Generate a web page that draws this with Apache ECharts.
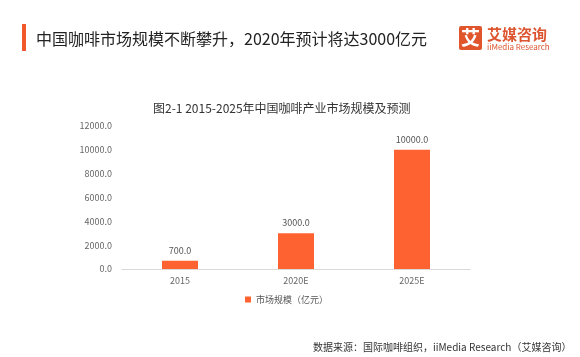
<!DOCTYPE html>
<html><head><meta charset="utf-8">
<script src="https://cdn.jsdelivr.net/npm/echarts@6/dist/echarts.min.js"></script>
<style>html,body{margin:0;padding:0;background:#fff}#c{width:580px;height:357px}</style>
</head><body><div id="c"></div>
<script>
const categories = ['2015', '2020E', '2025E'];
const marketSize = [700, 3000, 10000];
const seriesName = '市场规模（亿元）';
const yTicks = [0, 2000, 4000, 6000, 8000, 10000, 12000];

const FONT = '"Noto Sans CJK SC","Noto Sans",sans-serif';
const chart = echarts.init(document.getElementById('c'), null, {renderer: 'canvas'});
chart.setOption({
  backgroundColor: '#fff',
  animation: false,
  textStyle: {fontFamily: FONT},
  title: {
    text: '图2-1 2015-2025年中国咖啡产业市场规模及预测',
    left: 148, top: 97,
    textStyle: {fontSize: 12, fontWeight: 'normal', color: '#333', fontFamily: FONT}
  },
  grid: {left: 122, right: 110, top: 126, bottom: 88, containLabel: false},
  legend: {
    data: [seriesName], left: 240, top: 290,
    icon: 'rect', itemWidth: 6, itemHeight: 6, itemGap: 4,
    textStyle: {fontSize: 9, color: '#555', fontFamily: FONT}
  },
  xAxis: {
    type: 'category', data: categories,
    axisLine: {lineStyle: {color: '#d9d9d9'}},
    axisTick: {show: false},
    axisLabel: {fontSize: 9, color: '#666', margin: 7}
  },
  yAxis: {
    type: 'value', min: yTicks[0], max: yTicks[yTicks.length - 1], interval: 2000,
    axisLine: {show: false}, axisTick: {show: false},
    splitLine: {show: false},
    axisLabel: {fontSize: 9, color: '#666', margin: 10, formatter: v => v.toFixed(1)}
  },
  series: [{
    name: seriesName, type: 'bar', data: marketSize, barWidth: 36,
    itemStyle: {color: '#FF6231'},
    label: {show: true, position: 'top', fontSize: 9, color: '#555', distance: 6,
      formatter: p => p.value.toFixed(1)}
  }],
  graphic: [
    {type: 'rect', shape: {x: 22, y: 24, width: 4, height: 27}, style: {fill: '#F2592A'}},
    {type: 'text', left: 36, top: 31, style: {text: '中国咖啡市场规模不断攀升，2020年预计将达3000亿元', font: '16px ' + FONT, fill: '#222'}},
    {type: 'rect', shape: {x: 459, y: 26, width: 23, height: 24, r: 2}, style: {fill: '#E0552B'}},
    {type: 'text', x: 470.5, y: 38, style: {text: '艾', font: 'bold 19px ' + FONT, fill: '#fff', align: 'center', verticalAlign: 'middle'}},
    {type: 'text', x: 487, y: 34, style: {text: '艾媒咨询', font: 'bold 15px ' + FONT, fill: '#DD5530', verticalAlign: 'middle'}},
    {type: 'text', x: 487, y: 46.5, style: {text: 'iiMedia Research', font: '8px ' + FONT, fill: '#DD5530', verticalAlign: 'middle'}},
    {type: 'text', x: 313, y: 347, style: {text: '数据来源：国际咖啡组织，iiMedia Research（艾媒咨询）', font: '10px ' + FONT, fill: '#333', align: 'left', verticalAlign: 'middle'}}
  ]
});
</script></body></html>
